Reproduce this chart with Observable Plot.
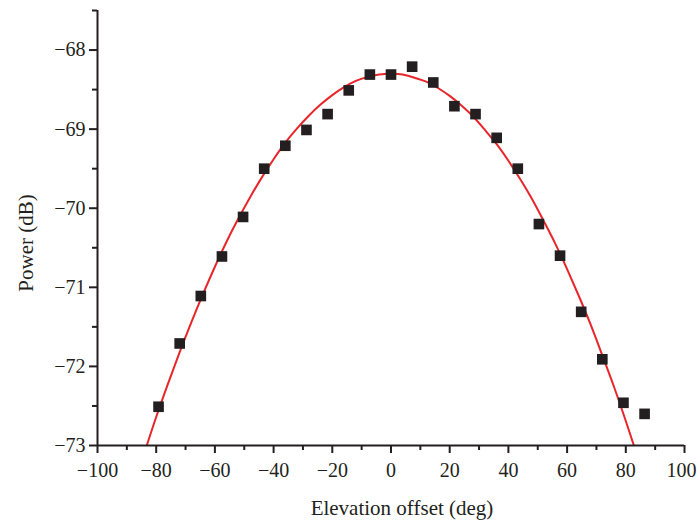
<!DOCTYPE html>
<html><head><meta charset="utf-8">
<script src="https://cdn.jsdelivr.net/npm/d3@7"></script>
<script src="https://cdn.jsdelivr.net/npm/@observablehq/plot@0.6"></script>
<style>body{margin:0;background:#fff} svg{display:block}</style>
</head><body><div id="chart"></div>
<script>
// Measured points
const offsets = [-79.2, -72, -64.8, -57.6, -50.4, -43.2, -36, -28.8, -21.6, -14.4, -7.2, 0,
                 7.2, 14.4, 21.6, 28.8, 36, 43.2, 50.4, 57.6, 64.8, 72, 79.2, 86.4];
const power = [-72.51, -71.71, -71.11, -70.61, -70.11, -69.50, -69.21, -69.01, -68.81, -68.51, -68.31, -68.31,
               -68.21, -68.41, -68.71, -68.81, -69.11, -69.50, -70.20, -70.60, -71.31, -71.91, -72.46, -72.60];
// Fitted curve
const fitOffsets = [-84, -80, -76, -72, -68, -64, -60, -56, -52, -48, -44, -40, -36, -32, -28, -24, -20, -16, -12, -8, -4, 0,
                    4, 8, 12, 16, 20, 24, 28, 32, 36, 40, 44, 48, 52, 56, 60, 64, 68, 72, 76, 80, 84];
const fitPower = [-73.09, -72.64, -72.22, -71.82, -71.44, -71.08, -70.74, -70.42, -70.13, -69.86, -69.61, -69.38, -69.17,
                  -68.99, -68.83, -68.69, -68.57, -68.47, -68.39, -68.34, -68.31, -68.30,
                  -68.31, -68.35, -68.40, -68.48, -68.58, -68.70, -68.84, -69.01, -69.19, -69.40, -69.63, -69.88,
                  -70.16, -70.45, -70.77, -71.11, -71.47, -71.86, -72.26, -72.69, -73.14];
// Ticks
const xTicks = [-100, -80, -60, -40, -20, 0, 20, 40, 60, 80];
const xLastTick = [100];
const xMinorTicks = [-90, -70, -50, -30, -10, 10, 30, 50, 70, 90];
const yTicks = [-73, -72, -71, -70, -69, -68];
const yMinorTicks = [-72.5, -71.5, -70.5, -69.5, -68.5, -67.5];
const xLabel = "Elevation offset (deg)";
const yLabel = "Power (dB)";

const points = offsets.map((x, i) => ({x, y: power[i]}));
const fit = fitOffsets.map((x, i) => ({x, y: fitPower[i]}));
const ink = "#231f20";
const fmt = d3.format("d");

const chart = Plot.plot({
  width: 697,
  height: 523,
  marginLeft: 97,
  marginRight: 13,
  marginTop: 10,
  marginBottom: 78,
  style: {fontFamily: "'Liberation Serif', 'Times New Roman', serif", fontSize: "20px", color: ink, background: "#fff"},
  x: {domain: [-100, 100]},
  y: {domain: [-73, -67.5]},
  marks: [
    Plot.line(fit, {x: "x", y: "y", stroke: "#e8262a", strokeWidth: 2, curve: "natural", clip: true}),
    Plot.dot(points, {x: "x", y: "y", symbol: "square", r: 6, fill: ink, stroke: "none"}),
    Plot.axisX({ticks: xTicks, tickSize: 8, tickPadding: 9, tickFormat: fmt, fontSize: 20, stroke: ink, strokeWidth: 2, label: null}),
    Plot.axisX({ticks: xLastTick, tickSize: 8, text: null, stroke: ink, strokeWidth: 2, label: null}),
    Plot.axisX({ticks: xLastTick, tickSize: 8, tickPadding: 9, tickFormat: fmt, fontSize: 20, stroke: "none", dx: -3, label: null}),
    Plot.axisX({ticks: xMinorTicks, tickSize: 5, text: null, stroke: ink, strokeWidth: 2, label: null}),
    Plot.axisY({ticks: yTicks, tickSize: 8, tickPadding: 4, tickFormat: fmt, fontSize: 20, stroke: ink, strokeWidth: 2, label: null}),
    Plot.axisY({ticks: yMinorTicks, tickSize: 5, text: null, stroke: ink, strokeWidth: 2, label: null}),
    Plot.ruleX([-100], {stroke: ink, strokeWidth: 2}),
    Plot.ruleY([-73], {stroke: ink, strokeWidth: 2}),
    Plot.text([xLabel], {frameAnchor: "bottom", textAnchor: "middle", lineAnchor: "middle", dx: 11, dy: 63, fontSize: 21, fill: ink}),
    Plot.text([yLabel], {frameAnchor: "left", textAnchor: "middle", lineAnchor: "middle", rotate: -90, dx: -71, dy: 15, fontSize: 21, fill: ink})
  ]
});
document.getElementById("chart").appendChild(chart);
</script>
</body></html>
